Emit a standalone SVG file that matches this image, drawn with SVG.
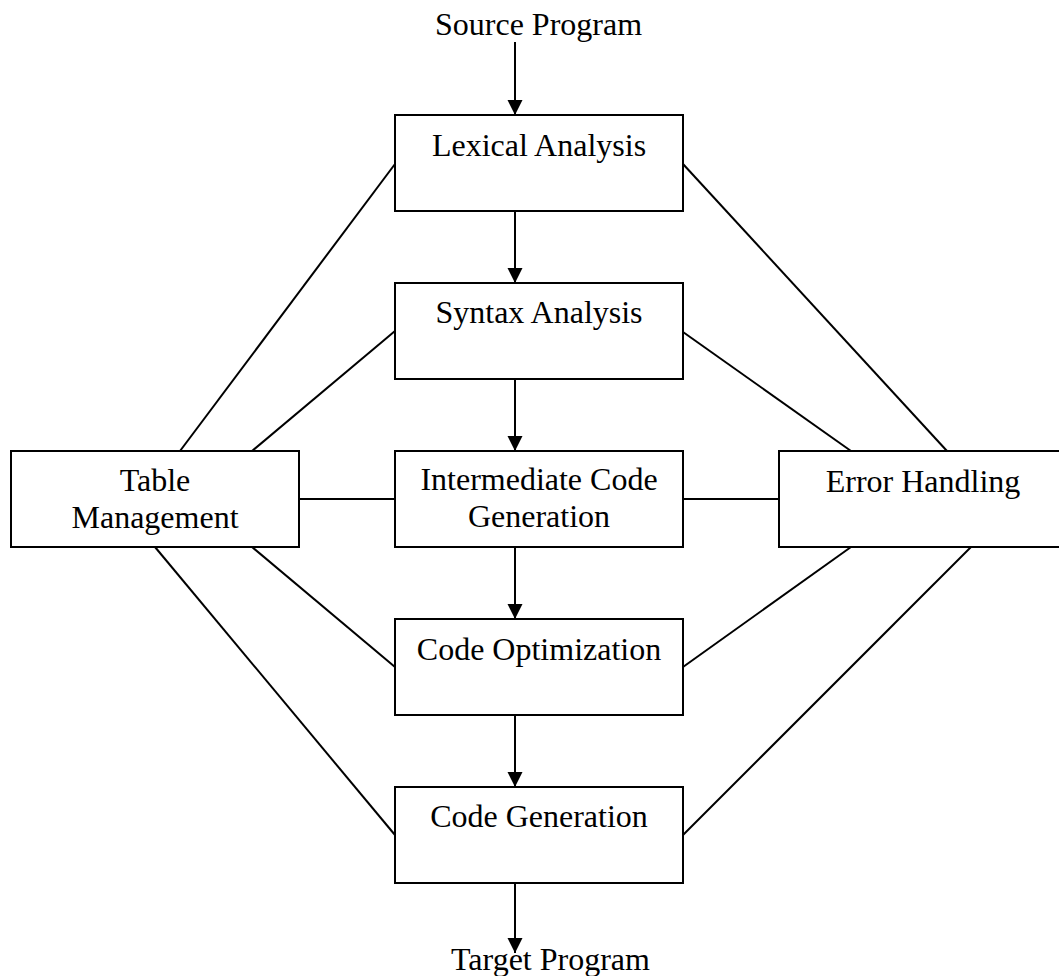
<svg xmlns="http://www.w3.org/2000/svg" width="1059" height="976" viewBox="0 0 1059 976">
<style>
.box{fill:#fff;stroke:#000;stroke-width:2}
.t{font-family:"Liberation Serif","Times New Roman",serif;font-size:32px;fill:#000;text-anchor:middle}
.ln{stroke:#000;stroke-width:2;fill:none}
</style>
<defs>
<marker id="ah" markerUnits="userSpaceOnUse" markerWidth="16" markerHeight="16" refX="15" refY="7.5" orient="auto">
<path d="M0,0 L15,7.5 L0,15 z" fill="#000"/>
</marker>
</defs>
<rect width="1059" height="976" fill="#fff"/>
<g id="connectors">
<line class="ln" x1="515" y1="42" x2="515" y2="115" marker-end="url(#ah)"/>
<line class="ln" x1="515" y1="211" x2="515" y2="283" marker-end="url(#ah)"/>
<line class="ln" x1="515" y1="379" x2="515" y2="451" marker-end="url(#ah)"/>
<line class="ln" x1="515" y1="547" x2="515" y2="619" marker-end="url(#ah)"/>
<line class="ln" x1="515" y1="715" x2="515" y2="787" marker-end="url(#ah)"/>
<line class="ln" x1="515" y1="883" x2="515" y2="953" marker-end="url(#ah)"/>
<line class="ln" x1="395" y1="164" x2="180" y2="451"/>
<line class="ln" x1="395" y1="331" x2="252" y2="451"/>
<line class="ln" x1="299" y1="499" x2="395" y2="499"/>
<line class="ln" x1="252" y1="547" x2="395" y2="667"/>
<line class="ln" x1="155" y1="547" x2="395" y2="835"/>
<line class="ln" x1="683" y1="164" x2="947" y2="451"/>
<line class="ln" x1="683" y1="332" x2="851" y2="451"/>
<line class="ln" x1="683" y1="499" x2="779" y2="499"/>
<line class="ln" x1="851" y1="547" x2="683" y2="667"/>
<line class="ln" x1="971" y1="547" x2="683" y2="835"/>
</g>
<g id="source"><text class="t" x="538.5" y="35">Source Program</text></g>
<g id="lexical"><rect class="box" x="395" y="115" width="288" height="96"/><text class="t" x="539" y="156">Lexical Analysis</text></g>
<g id="syntax"><rect class="box" x="395" y="283" width="288" height="96"/><text class="t" x="539" y="323">Syntax Analysis</text></g>
<g id="intermediate"><rect class="box" x="395" y="451" width="288" height="96"/><text class="t" x="539" y="490">Intermediate Code</text><text class="t" x="539" y="527">Generation</text></g>
<g id="optimization"><rect class="box" x="395" y="619" width="288" height="96"/><text class="t" x="539" y="660">Code Optimization</text></g>
<g id="generation"><rect class="box" x="395" y="787" width="288" height="96"/><text class="t" x="539" y="827">Code Generation</text></g>
<g id="table"><rect class="box" x="11" y="451" width="288" height="96"/><text class="t" x="155" y="491">Table</text><text class="t" x="155" y="528">Management</text></g>
<g id="error"><rect class="box" x="779" y="451" width="288" height="96"/><text class="t" x="923" y="492">Error Handling</text></g>
<g id="target"><text class="t" x="550.5" y="970">Target Program</text></g>
</svg>
